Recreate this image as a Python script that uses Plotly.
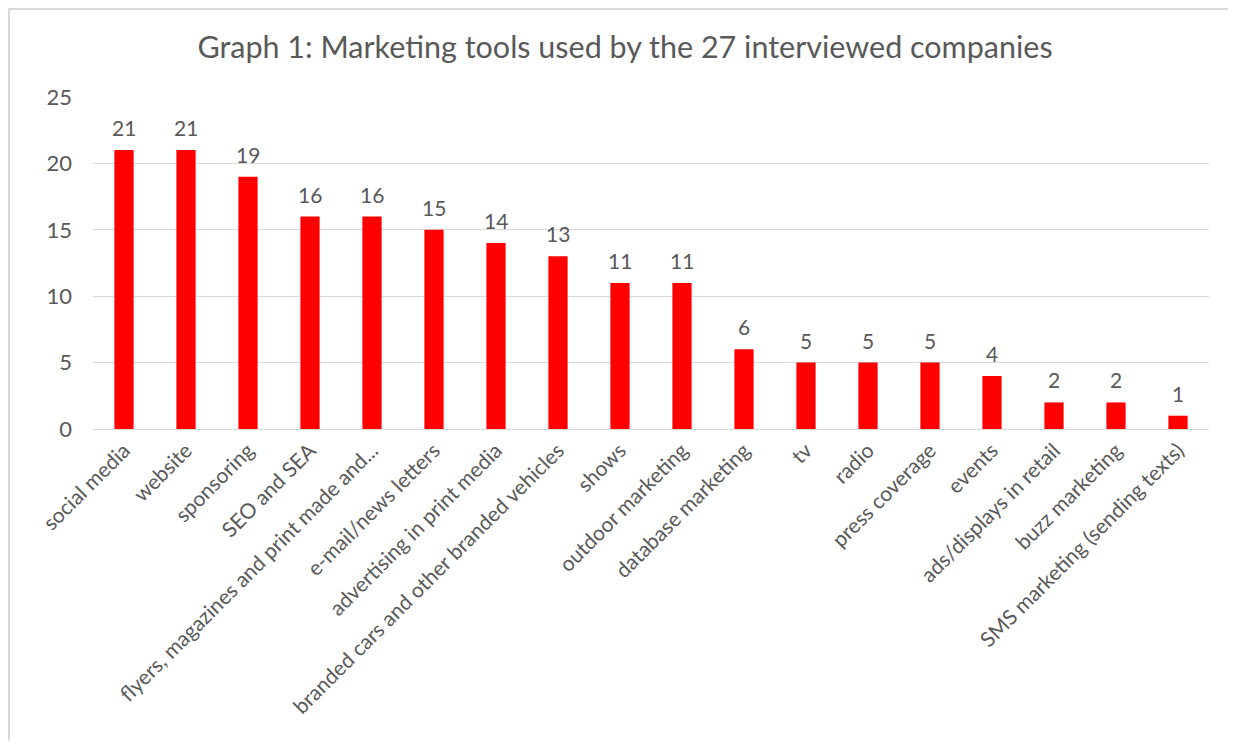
import plotly.graph_objects as go

categories = ["social media", "website", "sponsoring", "SEO and SEA",
              "flyers, magazines and print made and...", "e-mail/news letters",
              "advertising in print media", "branded cars and other branded vehicles",
              "shows", "outdoor marketing", "database marketing", "tv", "radio",
              "press coverage", "events", "ads/displays in retail", "buzz marketing",
              "SMS marketing (sending texts)"]
values = [21, 21, 19, 16, 16, 15, 14, 13, 11, 11, 6, 5, 5, 5, 4, 2, 2, 1]
y_ticks = [0, 5, 10, 15, 20, 25]
title = "Graph 1: Marketing tools used by the 27 interviewed companies"

# page has an 8px body margin; figure coords = page coords - 8
W, H = 1220, 733
L, R, T, B = 85, 19, 89, 312
pw, ph = W - L - R, H - T - B

font = "Lato"
grey = "#595959"

fig = go.Figure(go.Bar(
    x=categories, y=values,
    marker=dict(color="#FF0000", line=dict(width=0)),
    width=0.31, hoverinfo="x+y",
))

annotations = [dict(x=c, y=v, xref="x", yref="y", text=str(v), showarrow=False,
                    yanchor="bottom", yshift=8,
                    font=dict(size=21, color=grey, family=font))
               for c, v in zip(categories, values)]

px_x = lambda p: (p - L) / pw
px_y = lambda p: (H - B - p) / ph

fig.update_layout(
    width=W, height=H,
    margin=dict(l=L, r=R, t=T, b=B, autoexpand=False),
    paper_bgcolor="white", plot_bgcolor="white",
    title=dict(text=title, x=617 / W, xanchor="center", y=1 - 39 / H, yanchor="middle",
               font=dict(size=30.5, color=grey, family=font)),
    showlegend=False,
    annotations=annotations,
    xaxis=dict(tickangle=-45, tickfont=dict(size=21, color=grey, family=font),
               showgrid=False, showline=True, linecolor="#d9d9d9", linewidth=1,
               ticks="", automargin=False),
    yaxis=dict(range=[0, 25], tickvals=y_ticks, tickfont=dict(size=22, color=grey, family=font),
               showgrid=True, gridcolor="#d9d9d9", gridwidth=1, zeroline=False,
               ticks="", ticklen=0, automargin=False, ticklabelstandoff=20),
    shapes=[
        dict(type="line", xref="paper", yref="paper",
             x0=px_x(0), x1=px_x(W + 40), y0=px_y(1), y1=px_y(1),
             line=dict(color="#d9d9d9", width=2)),
        dict(type="line", xref="paper", yref="paper",
             x0=px_x(1), x1=px_x(1), y0=px_y(0), y1=px_y(H + 40),
             line=dict(color="#d9d9d9", width=2)),
    ],
)

fig.write_html("out.html")
